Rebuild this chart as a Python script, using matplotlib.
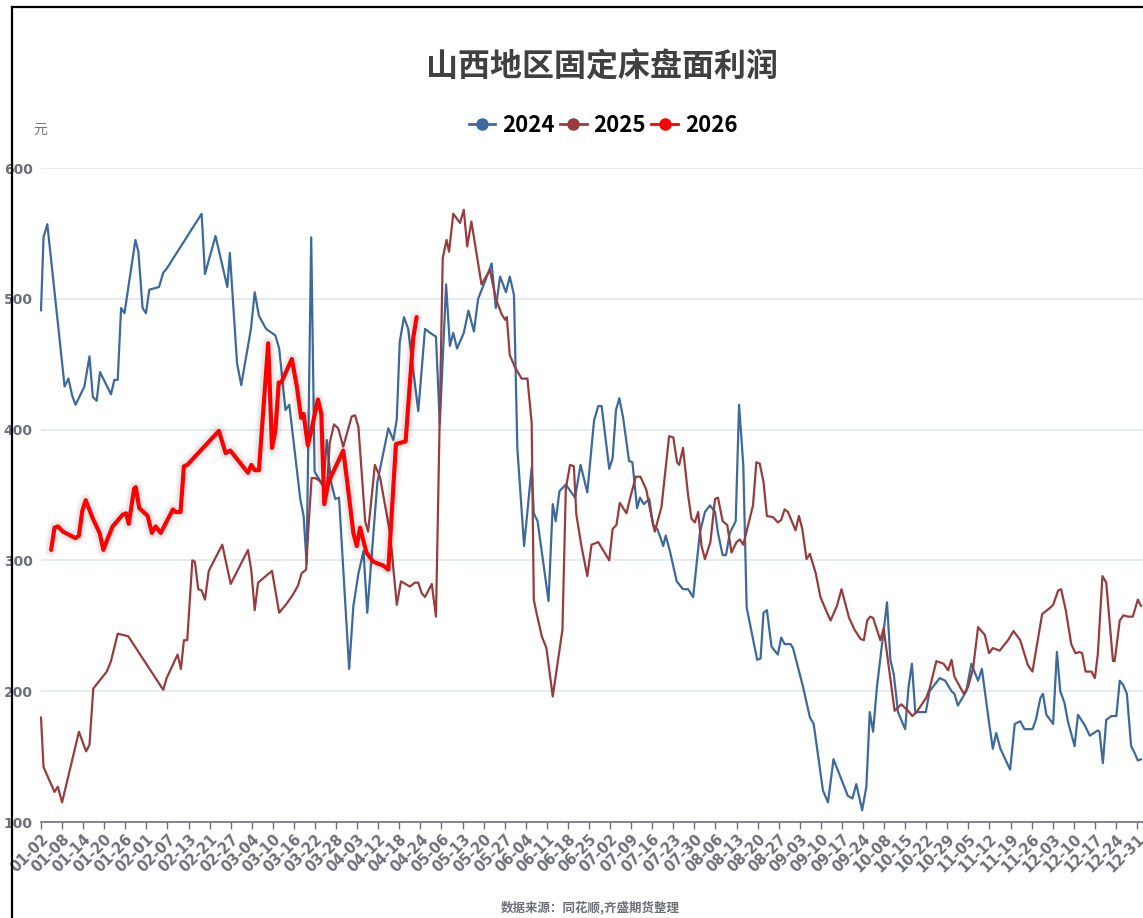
import matplotlib
matplotlib.use("Agg")
import matplotlib.pyplot as plt
import matplotlib.patheffects as pe
from matplotlib.lines import Line2D

plt.rcParams['font.family'] = ['Noto Sans CJK SC', 'DejaVu Sans']

title = "山西地区固定床盘面利润"
source = "数据来源：同花顺,齐盛期货整理"
unit = "元"

tick_labels = ["01-02", "01-08", "01-14", "01-20", "01-26", "02-01", "02-07", "02-13", "02-21",
               "02-27", "03-04", "03-10", "03-16", "03-22", "03-28", "04-03", "04-12", "04-18",
               "04-24", "05-06", "05-13", "05-20", "05-27", "06-04", "06-11", "06-18", "06-25",
               "07-02", "07-09", "07-16", "07-23", "07-30", "08-06", "08-13", "08-20", "08-27",
               "09-03", "09-10", "09-17", "09-24", "10-08", "10-15", "10-22", "10-29", "11-05",
               "11-12", "11-19", "11-26", "12-03", "12-10", "12-17", "12-24", "12-31"]
days_per_label = 5

# (trading-day index, profit)
s2024 = [(0, 491), (0.6, 547), (1.5, 557), (5.6, 433), (6.5, 439), (7.4, 426), (8.2, 419), (10.3, 433),
         (11.5, 456), (12.3, 425), (13.2, 422), (14.0, 444), (16.6, 427), (17.4, 438), (18.2, 438),
         (19.0, 493), (19.8, 489), (22.4, 545), (23.1, 536), (24.1, 493), (24.9, 489), (25.7, 507),
         (28.0, 509), (29.0, 520), (29.8, 523), (38.1, 565), (38.9, 519), (41.4, 548), (44.2, 509),
         (44.8, 535), (46.5, 451), (47.5, 434), (49.8, 477), (50.7, 505), (51.7, 487), (53.4, 477),
         (55.6, 472), (56.5, 462), (58.0, 415), (58.9, 419), (61.5, 347), (62.3, 334), (63.0, 298),
         (64.1, 547), (64.9, 368), (67.0, 356), (67.8, 392), (68.8, 360), (69.8, 347), (70.7, 348),
         (73.1, 217), (74.1, 265), (75.3, 290), (76.5, 307), (77.4, 260), (79.8, 360), (82.4, 401),
         (83.6, 392), (84.4, 408), (85.1, 467), (86.1, 486), (87.1, 477), (89.5, 414), (91.1, 477),
         (92.3, 474), (93.7, 471), (94.6, 404), (96.1, 511), (97.0, 464), (97.8, 474), (98.7, 462),
         (100.3, 474), (101.4, 491), (102.7, 475), (103.7, 500), (105.3, 513), (106.9, 527),
         (107.9, 493), (108.9, 517), (110.3, 505), (111.2, 517), (112.2, 503), (113.0, 386),
         (114.6, 311), (116.4, 371), (116.9, 336), (117.8, 330), (120.4, 269), (121.4, 343),
         (122.1, 330), (123.0, 353), (124.5, 358), (126.7, 348), (128.0, 373), (129.6, 352),
         (130.6, 386), (131.2, 407), (132.2, 418), (133.0, 418), (134.8, 370), (135.6, 378),
         (136.4, 415), (137.2, 424), (138.1, 409), (139.5, 376), (140.3, 375), (141.4, 340),
         (142.1, 348), (143.0, 343), (144.3, 347), (145.2, 327), (146.2, 324), (147.0, 317),
         (147.6, 311), (148.2, 319), (149.2, 307), (150.8, 284), (152.3, 278), (153.5, 278),
         (154.7, 272), (156.3, 321), (157.5, 337), (158.7, 342), (159.9, 337), (160.6, 321),
         (161.7, 304), (162.5, 304), (163.4, 321), (164.8, 330), (165.6, 419), (166.6, 373),
         (167.4, 264), (169.9, 224), (170.7, 225), (171.4, 260), (172.2, 262), (173.3, 234),
         (174.8, 228), (175.6, 241), (176.4, 236), (177.8, 236), (178.4, 233), (180.8, 203),
         (182.4, 180), (183.3, 175), (185.5, 124), (186.7, 115), (188.0, 148), (191.4, 120),
         (192.5, 118), (193.4, 129), (194.8, 109), (195.8, 127), (196.6, 184), (197.4, 169),
         (198.3, 203), (200.7, 268), (201.5, 224), (202.3, 213), (203.3, 184), (205.0, 171),
         (205.8, 203), (206.6, 221), (207.4, 184), (209.9, 184), (210.8, 200), (213.2, 210),
         (214.5, 208), (216.0, 200), (216.7, 198), (217.5, 189), (219.5, 200), (220.7, 221),
         (222.3, 208), (223.2, 217), (224.9, 176), (225.8, 156), (226.6, 168), (227.6, 156),
         (229.9, 140), (231.0, 175), (232.3, 177), (233.3, 171), (235.2, 171), (236.0, 178),
         (237.1, 195), (237.7, 198), (238.5, 182), (240.1, 175), (241.0, 230), (241.8, 200),
         (242.8, 191), (243.6, 177), (245.2, 158), (246.0, 182), (247.6, 174), (248.8, 166),
         (250.7, 170), (251.1, 169), (251.9, 145), (252.7, 178), (253.9, 181), (255.1, 181),
         (255.9, 208), (256.7, 205), (257.6, 198), (258.6, 158), (259.4, 153), (260.2, 147),
         (261.0, 148)]

s2025 = [(0, 180), (0.6, 142), (3.2, 123), (4.0, 127), (5.0, 115), (9.0, 169), (10.7, 154), (11.5, 159),
         (12.4, 202), (15.6, 215), (16.6, 223), (18.2, 244), (20.7, 242), (29.0, 201), (29.8, 210),
         (32.4, 228), (33.2, 217), (33.9, 239), (34.7, 239), (35.9, 300), (36.5, 299), (37.3, 278),
         (38.1, 277), (38.9, 270), (39.8, 292), (43.0, 312), (45.0, 282), (49.1, 308), (49.9, 292),
         (50.7, 262), (51.5, 283), (54.8, 292), (56.5, 260), (58.3, 267), (59.8, 274), (61.0, 281),
         (61.8, 290), (62.9, 293), (63.4, 323), (64.2, 363), (65.0, 363), (66.6, 360), (67.8, 354),
         (68.5, 390), (69.5, 404), (70.5, 401), (71.7, 387), (73.7, 410), (74.5, 411), (75.3, 402),
         (76.9, 330), (77.6, 322), (79.2, 373), (80.4, 364), (82.8, 321), (84.4, 266), (85.4, 284),
         (87.5, 280), (88.7, 283), (89.5, 283), (90.3, 275), (91.1, 272), (92.7, 282), (93.7, 257),
         (95.3, 531), (96.2, 545), (96.8, 536), (97.8, 565), (99.4, 558), (100.3, 568), (101.1, 540),
         (102.1, 559), (104.5, 511), (106.5, 522), (107.9, 500), (109.3, 488), (110.1, 484),
         (110.5, 486), (111.2, 457), (112.4, 448), (114.0, 439), (115.4, 439), (116.4, 405),
         (116.9, 270), (117.6, 259), (118.8, 242), (119.9, 233), (121.4, 196), (123.7, 247),
         (124.5, 355), (125.5, 373), (126.4, 372), (127.0, 335), (128.2, 311), (129.6, 288),
         (130.6, 312), (132.2, 314), (134.8, 300), (135.6, 324), (136.5, 327), (137.3, 344),
         (138.9, 336), (139.7, 347), (141.1, 364), (142.2, 364), (143.6, 354), (144.6, 337),
         (145.6, 322), (147.2, 341), (149.0, 395), (150.0, 394), (150.9, 375), (151.4, 373),
         (152.3, 386), (153.5, 350), (154.3, 332), (155.1, 329), (155.9, 337), (156.7, 311),
         (157.5, 301), (158.8, 314), (159.9, 347), (160.6, 348), (161.7, 330), (162.8, 327),
         (163.8, 306), (165.0, 314), (165.8, 316), (166.6, 312), (168.9, 342), (169.7, 375),
         (170.5, 374), (171.4, 360), (172.2, 334), (173.7, 333), (174.8, 329), (175.6, 331),
         (176.4, 339), (177.2, 337), (179.0, 323), (179.8, 334), (180.6, 324), (181.6, 301),
         (182.4, 305), (183.8, 290), (184.9, 272), (186.2, 262), (187.3, 254), (188.8, 265),
         (189.9, 278), (191.7, 256), (193.0, 247), (194.4, 240), (195.2, 239), (196.0, 254),
         (196.7, 257), (197.4, 256), (199.1, 239), (199.9, 248), (202.5, 185), (204.1, 190),
         (205.7, 185), (206.7, 181), (207.7, 184), (210.0, 195), (210.8, 202), (212.4, 223),
         (214.1, 221), (215.2, 216), (216.0, 224), (216.7, 211), (218.9, 198), (219.9, 203),
         (221.1, 217), (222.3, 249), (223.9, 243), (224.9, 229), (225.8, 233), (227.4, 231),
         (229.4, 239), (230.7, 246), (232.3, 239), (234.1, 220), (235.2, 215), (237.5, 259),
         (239.1, 263), (240.1, 266), (241.3, 277), (242.0, 278), (243.1, 262), (244.4, 236),
         (245.4, 229), (246.4, 230), (247.0, 229), (247.8, 215), (249.2, 215), (250.0, 210),
         (250.7, 228), (251.8, 288), (252.7, 283), (254.3, 223), (254.7, 223), (255.9, 254),
         (256.8, 258), (257.9, 257), (259.0, 257), (260.2, 270), (261.0, 265)]

s2026 = [(2.4, 308), (3.2, 325), (4.0, 326), (5.2, 322), (8.2, 317), (9.0, 319), (9.8, 338), (10.6, 346),
         (12.3, 332), (13.9, 321), (14.8, 308), (15.6, 315), (17.0, 326), (19.4, 335), (20.2, 336),
         (20.8, 328), (21.3, 338), (22.1, 355), (22.5, 356), (23.3, 340), (25.3, 334), (26.3, 321),
         (27.2, 326), (28.4, 321), (31.3, 339), (31.9, 337), (33.1, 337), (33.9, 372), (34.7, 373),
         (42.2, 399), (43.8, 382), (44.9, 384), (49.1, 367), (49.9, 373), (50.7, 369), (51.7, 369),
         (53.9, 466), (54.8, 386), (55.6, 399), (56.4, 436), (57.0, 436), (59.5, 454), (60.7, 433),
         (61.7, 409), (62.3, 412), (63.3, 388), (64.1, 399), (65.7, 423), (66.5, 412), (67.2, 343),
         (68.2, 360), (71.7, 384), (72.8, 356), (74.1, 321), (74.9, 311), (75.7, 325), (77.2, 306),
         (78.8, 299), (81.2, 296), (82.4, 293), (84.2, 389), (86.5, 391), (88.3, 470), (89.1, 486)]

series = [("2024", s2024, "#3d6a9b", 1.6), ("2025", s2025, "#973d3d", 1.6), ("2026", s2026, "#ff0000", 3.0)]

W, H = 1143, 918
fig = plt.figure(figsize=(W / 100, H / 100), dpi=100)
fig.patch.set_facecolor("white")
ax = fig.add_axes([41 / W, 1 - 822 / H, (W - 41) / W, (822 - 168) / H])

n_days = (len(tick_labels) - 1) * days_per_label
px_per_day = (1137 - 41) / n_days
ax.set_xlim(0, (W - 41) / px_per_day)
ax.set_ylim(100, 600)

for z, (name, data, color, lw) in enumerate(series):
    xs = [p[0] for p in data]
    ys = [p[1] for p in data]
    kw = {}
    if name == "2026":
        kw["path_effects"] = [pe.Stroke(linewidth=10, foreground=(0, 0, 0, 0.035)),
                              pe.Stroke(linewidth=7, foreground=(0, 0, 0, 0.06)),
                              pe.Normal()]
    ax.plot(xs, ys, color=color, lw=lw, solid_joinstyle="round", solid_capstyle="round",
            zorder=3 + z, clip_on=False, **kw)

ax.set_yticks([100, 200, 300, 400, 500, 600])
ax.set_yticklabels(["100", "200", "300", "400", "500", "600"])
for v in [200, 300, 400, 500, 600]:
    ax.axhline(v, color="#E0E6F1", lw=1.2, zorder=1)

ax.set_xticks([i * days_per_label for i in range(len(tick_labels))])
ax.set_xticklabels(tick_labels, rotation=45, ha="right", va="top", rotation_mode="anchor",
                   fontsize=10.5, color="#6E7079", fontweight="bold", family="DejaVu Sans")
ax.tick_params(axis="x", length=5, width=1, color="#6E7079", pad=2)
ax.tick_params(axis="y", length=0, pad=6, labelsize=10, labelcolor="#6E7079")
for lab in ax.get_yticklabels():
    lab.set_fontweight("bold")
    lab.set_family("DejaVu Sans")

for s in ["top", "right", "left"]:
    ax.spines[s].set_visible(False)
ax.spines["bottom"].set_color("#6E7079")
ax.spines["bottom"].set_linewidth(1.2)
ax.set_facecolor("white")

fig.text(602 / W, 1 - 67 / H, title, ha="center", va="center", fontsize=23,
         fontweight="bold", color="#404040")
fig.text(40 / W, 1 - 130 / H, unit, ha="center", va="center", fontsize=10, color="#777777")
fig.text(590 / W, 1 - 907 / H, source, ha="center", va="center", fontsize=9,
         fontweight="bold", color="#6E7079")

handles = [Line2D([], [], color=c, lw=2, marker="o", ms=8) for _, _, c, _ in series]
fig.legend(handles, [s[0] for s in series], loc="center", bbox_to_anchor=(603 / W, 1 - 125 / H),
           ncol=3, frameon=False, handlelength=1.2, handletextpad=0.3, columnspacing=0.25,
           prop={"family": "Noto Sans CJK SC", "weight": "bold", "size": 16})

fig.add_artist(Line2D([12 / W, 12 / W], [0, 1 - 7 / H], color="black", lw=1.6, transform=fig.transFigure))
fig.add_artist(Line2D([12 / W, 1], [1 - 7 / H, 1 - 7 / H], color="black", lw=1.6, transform=fig.transFigure))

fig.savefig("out.png", dpi=100, facecolor="white")
